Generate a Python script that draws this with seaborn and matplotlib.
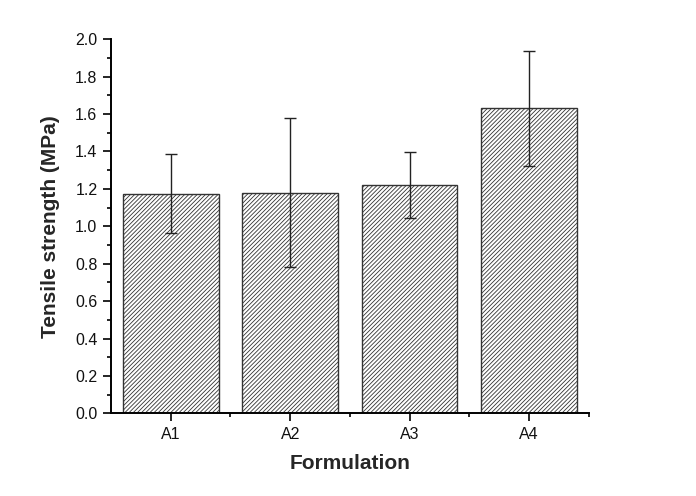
import numpy as np
import pandas as pd
import matplotlib
matplotlib.use("Agg")
import matplotlib.pyplot as plt
import seaborn as sns
from matplotlib.ticker import MultipleLocator, FixedLocator

formulations = ["A1", "A2", "A3", "A4"]
tensile = [1.175, 1.18, 1.22, 1.63]
tensile_err = [0.21, 0.40, 0.175, 0.305]

sns.set_theme(style="ticks")
plt.rcParams['font.family'] = ['Liberation Sans', 'DejaVu Sans']
plt.rcParams['hatch.linewidth'] = 0.6
plt.rcParams['hatch.color'] = '#5e5e5e'

df = pd.DataFrame({"Formulation": formulations, "Tensile": tensile})

fig = plt.figure(figsize=(6.96, 4.96), dpi=100)
ax = fig.add_axes([0.1595, 0.1667, 0.6865, 0.7541])

sns.barplot(data=df, x="Formulation", y="Tensile", ax=ax, color="white",
            edgecolor="#333333", linewidth=1.0, width=0.8, errorbar=None,
            hatch="////////", saturation=1)
ax.errorbar(np.arange(len(formulations)), tensile, yerr=tensile_err, fmt="none",
            ecolor="#222222", elinewidth=1.0, capsize=4.5, capthick=1.0, zorder=5)

ax.set_xlim(-0.5, 3.5)
ax.set_ylim(0, 2.0)
ax.yaxis.set_major_locator(MultipleLocator(0.2))
ax.yaxis.set_minor_locator(MultipleLocator(0.1))
ax.yaxis.set_major_formatter(matplotlib.ticker.FormatStrFormatter("%.1f"))
ax.xaxis.set_minor_locator(FixedLocator([0.5, 1.5, 2.5, 3.5]))

sns.despine(ax=ax)
for s in ["left", "bottom"]:
    ax.spines[s].set_linewidth(1.4)
    ax.spines[s].set_color("black")
ax.tick_params(axis="both", which="major", direction="out", length=5.8, width=1.2,
               color="black", labelsize=11.5, labelcolor="#111111", pad=4)
ax.tick_params(axis="both", which="minor", direction="out", length=3.2, width=1.2,
               color="black")

ax.set_xlabel("Formulation", fontsize=15, fontweight="bold", labelpad=9)
ax.set_ylabel("Tensile strength (MPa)", fontsize=15, fontweight="bold", labelpad=11)

fig.savefig("out.png", dpi=100)
